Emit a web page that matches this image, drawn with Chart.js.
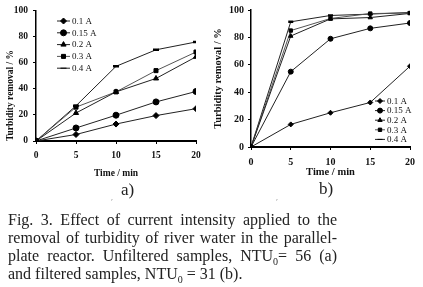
<!DOCTYPE html>
<html lang="en">
<head>
<meta charset="UTF-8">
<title>Fig. 3 turbidity removal</title>
<script src="https://cdn.jsdelivr.net/npm/chart.js"></script>
<style>
  html, body { margin: 0; padding: 0; background: #fff; }
  body { width: 423px; height: 287px; position: relative; overflow: hidden; font-family: 'Liberation Serif', serif; }
  canvas { position: absolute; top: 0; }
  .lbl { position: absolute; font-size: 17px; color: #222; line-height: 1; }
  .cap { position: absolute; left: 8px; width: 329px; font-size: 16px; color: #222; white-space: nowrap; line-height: 18px; }
  .just { text-align: justify; text-align-last: justify; }
  .cap sub { font-size: 10px; line-height: 0; }
  .tick { position: absolute; font-size: 9px; color: #999; }
</style>
</head>
<body>
<canvas id="chartA" width="211" height="200" style="left:0"></canvas>
<canvas id="chartB" width="212" height="200" style="left:211px"></canvas>
<div class="lbl" style="left:121px; top:181px;">a)</div>
<div class="lbl" style="left:319px; top:180px;">b)</div>
<div class="tick" style="left:111px; top:197px;">′</div>
<div class="tick" style="left:276px; top:197px;">′</div>
<div class="cap just" style="top:211px;">Fig. 3. Effect of current intensity applied to the</div>
<div class="cap just" style="top:229px;">removal of turbidity of river water in the parallel-</div>
<div class="cap just" style="top:247px;">plate reactor. Unfiltered samples, NTU<sub>0</sub>= 56 (a)</div>
<div class="cap" style="top:265px;">and filtered samples, NTU<sub>0</sub> = 31 (b).</div>

<script>
const times = [0, 5, 10, 15, 20];
const currents = ['0.1 A', '0.15 A', '0.2 A', '0.3 A', '0.4 A'];
const markers = ['rectRot', 'circle', 'triangle', 'rect', 'line'];

// a) unfiltered samples
const unfiltered01 = [0, 5, 13, 19.5, 24.8];
const unfiltered015 = [0, 10, 19.8, 30, 38];
const unfiltered02 = [0, 21.5, 37.7, 48, 64.6];
const unfiltered03 = [0, 26, 37.7, 54, 68.3];
const unfiltered04 = [0, 27, 57.3, 70, 76];

// b) filtered samples
const filtered01 = [0, 16.5, 25, 32.5, 59];
const filtered015 = [0, 55, 79, 86.6, 90.5];
const filtered02 = [0, 81, 93.5, 94.5, 97.5];
const filtered03 = [0, 85, 93.8, 97.4, 97.8];
const filtered04 = [0, 91.4, 96, 97, 98.2];

const yTicks = [0, 10, 20, 30, 40, 50, 60, 70, 80, 90, 100];

const serif = "'Liberation Serif', 'Times New Roman', serif";

// legend drawn inside the plot area
const innerLegend = {
  id: 'innerLegend',
  afterDraw(chart, args, opts) {
    const ctx = chart.ctx;
    ctx.save();
    ctx.font = opts.fontSize + 'px ' + serif;
    ctx.textBaseline = 'middle';
    chart.data.datasets.forEach((ds, i) => {
      const y = opts.y + i * opts.row;
      ctx.strokeStyle = ds.borderColor;
      ctx.lineWidth = 1;
      ctx.beginPath();
      ctx.moveTo(opts.x, y);
      ctx.lineTo(opts.x + opts.len, y);
      ctx.stroke();
      ctx.fillStyle = '#000';
      ctx.strokeStyle = '#000';
      Chart.helpers.drawPoint(ctx, {
        pointStyle: ds.pointStyle,
        radius: ds.pointRadius,
        rotation: 0,
        borderWidth: ds.pointStyle === 'line' ? 1 : ds.pointBorderWidth
      }, opts.x + opts.len / 2, y);
      ctx.fillStyle = '#111';
      ctx.fillText(ds.label, opts.x + opts.len + 2, y + 0.5);
    });
    ctx.restore();
  }
};

function buildDatasets(series, radius) {
  return series.map((vals, i) => ({
    label: currents[i],
    data: times.map((t, k) => ({ x: t, y: vals[k] })),
    borderColor: i === 3 ? '#555' : '#222',
    borderWidth: 1,
    pointStyle: markers[i],
    pointRadius: markers[i] === 'rect' ? radius * 0.95 : radius,
    pointBackgroundColor: '#000',
    pointBorderColor: '#000',
    pointBorderWidth: markers[i] === 'line' ? 2.5 : 1,
    tension: 0
  }));
}

function makeChart(id, series, cfg) {
  new Chart(document.getElementById(id), {
    type: 'line',
    data: { datasets: buildDatasets(series, cfg.radius) },
    options: {
      responsive: false,
      animation: false,
      devicePixelRatio: 1,
      layout: { padding: { left: 0, right: cfg.padRight, top: 7, bottom: 0 } },
      plugins: {
        legend: { display: false },
        tooltip: { enabled: false },
        innerLegend: cfg.legend
      },
      scales: {
        x: {
          type: 'linear',
          min: 0,
          max: 20,
          afterFit: s => { s.height = cfg.xHeight; },
          border: { color: '#000', width: 2 },
          grid: { drawOnChartArea: false, tickLength: 3, color: '#000' },
          ticks: {
            stepSize: 5,
            padding: cfg.xTickPad,
            color: '#111',
            font: { family: serif, size: cfg.tickSize, weight: 'bold' }
          },
          title: {
            display: true,
            text: 'Time / min',
            color: '#111',
            font: { family: serif, size: cfg.xTitleSize, weight: 'bold' },
            padding: { top: 0, bottom: cfg.xTitlePad }
          }
        },
        y: {
          min: 0,
          max: 100,
          afterFit: s => { s.width = cfg.yWidth; },
          afterBuildTicks: s => { s.ticks = yTicks.map(v => ({ value: v })); },
          border: { color: '#000', width: 1.5 },
          grid: { drawOnChartArea: false, tickLength: 3, color: '#000' },
          ticks: {
            padding: cfg.yTickPad,
            color: '#111',
            font: { family: serif, size: cfg.tickSize, weight: 'bold' }
          },
          title: {
            display: true,
            text: 'Turbidity removal / %',
            align: cfg.yTitleAlign,
            color: '#111',
            font: { family: serif, size: cfg.yTitleSize, weight: 'bold' },
            padding: { top: cfg.yTitlePad, bottom: 0 }
          }
        }
      }
    },
    plugins: [innerLegend]
  });
}

makeChart('chartA',
  [unfiltered01, unfiltered015, unfiltered02, unfiltered03, unfiltered04],
  {
    radius: 3, padRight: 15, xHeight: 59, yWidth: 36,
    tickSize: 9.5, xTickPad: 6, yTickPad: 5,
    xTitleSize: 9.5, xTitlePad: 21, yTitleSize: 9.5, yTitlePad: 5, yTitleAlign: 'start',
    legend: { x: 57, y: 21, row: 11.8, len: 13, fontSize: 9 }
  });

makeChart('chartB',
  [filtered01, filtered015, filtered02, filtered03, filtered04],
  {
    radius: 2.5, padRight: 13, xHeight: 53, yWidth: 40,
    tickSize: 10, xTickPad: 6, yTickPad: 4,
    xTitleSize: 10.5, xTitlePad: 21, yTitleSize: 10.5, yTitlePad: 1, yTitleAlign: 'center',
    legend: { x: 164, y: 101, row: 9.6, len: 10, fontSize: 9 }
  });
</script>
</body>
</html>
